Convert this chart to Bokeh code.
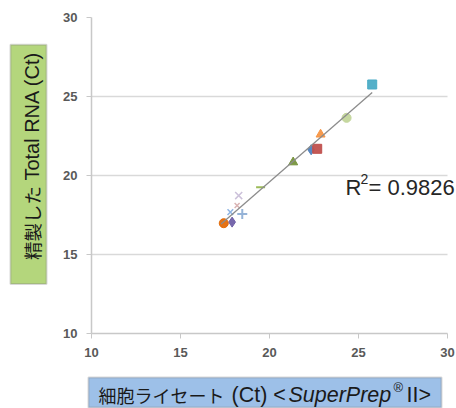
import math
import numpy as np
from bokeh.plotting import figure
from bokeh.layouts import column, row
from bokeh.models import Range1d, Label, BoxAnnotation, FixedTicker, ColumnDataSource
from bokeh.embed import file_html
from bokeh.resources import INLINE

# ---- data ----
x_lysate = [17.43, 17.90, 17.80, 18.47, 18.18, 18.27, 19.50, 21.33, 22.34, 22.68, 22.87, 24.33, 25.77]
y_total_rna = [16.98, 17.05, 17.68, 17.57, 18.10, 18.73, 19.26, 20.84, 21.63, 21.69, 22.60, 23.65, 25.76]
tick_values = [10, 15, 20, 25, 30]
r2_value = "0.9826"
y_title_jp = "精製した"
y_title_en = "Total RNA (Ct)"
x_title_jp = "細胞ライセート"
x_title_ct = "(Ct) <"
x_title_brand = "SuperPrep"
x_title_reg = "®"
x_title_end = "II>"

# ---- styles ----
markers = ["circle", "diamond", "x", "cross", "x", "x", "dash", "triangle", "diamond", "square", "triangle", "circle", "square"]
colors = ["#E46C0A", "#7060A8", "#8EB4E3", "#95B3D7", "#D9B3B3", "#CCC1DA", "#9BBB59", "#77933C",
          "#4F81BD", "#C0504D", "#F79646", "#C3D69B", "#4BACC6"]
sizes = [9, 10, 8, 10, 7, 10, 9, 9, 10, 9, 9, 9, 9]
line_widths = [1, 1, 1.5, 2, 1.5, 1.5, 2, 1, 1, 1, 1, 1, 1]

LAT = "Liberation Sans"
CJK = "Noto Sans CJK JP"
TXT = "#1a1a1a"

W, H = 456, 408
LEFT_W = 52
TOP_H = 370


def decor_fig(width, height, x0, y0):
    f = figure(width=width, height=height, output_backend="svg", toolbar_location=None,
               x_range=Range1d(x0, x0 + width), y_range=Range1d(y0 + height, y0),
               min_border=0, x_axis_location=None, y_axis_location=None)
    f.grid.visible = False
    f.outline_line_color = None
    f.background_fill_color = "white"
    f.border_fill_color = "white"
    return f


def add_text(f, x, y, text, font, size, units="data", align="left", baseline="middle",
             angle=0.0, style="normal", color=TXT):
    f.add_layout(Label(x=x, y=y, x_units=units, y_units=units, text=text, angle=angle,
                       text_align=align, text_baseline=baseline, text_font=font,
                       text_font_size=size, text_font_style=style, text_color=color))


# ---------------- main chart ----------------
FRAME_L, FRAME_T, FRAME_B = 91, 17, 333
X30_PX = 447
px_per_unit = (X30_PX - FRAME_L) / (tick_values[-1] - tick_values[0])
x_end = tick_values[0] + (W - FRAME_L) / px_per_unit

p = figure(width=W - LEFT_W, height=TOP_H, output_backend="svg", toolbar_location=None,
           x_range=Range1d(tick_values[0], x_end), y_range=Range1d(tick_values[0], tick_values[-1]),
           min_border_left=FRAME_L - LEFT_W, min_border_right=0,
           min_border_top=FRAME_T, min_border_bottom=TOP_H - FRAME_B)
p.outline_line_color = None
p.background_fill_color = "white"
p.border_fill_color = "white"
p.xgrid.visible = False
p.ygrid.grid_line_color = "#d9d9d9"
p.ygrid.grid_line_width = 1.5
try:
    p.ygrid.cross_bounds = (tick_values[0], tick_values[-1])
except Exception:
    pass
for ax in (p.xaxis[0], p.yaxis[0]):
    ax.ticker = FixedTicker(ticks=tick_values)
    ax.bounds = (tick_values[0], tick_values[-1])
    ax.axis_line_color = "#c8c8c8"
    ax.axis_line_width = 1.5
    ax.major_tick_line_color = "#c8c8c8"
    ax.major_tick_in = 0
    ax.major_tick_out = 5
    ax.minor_tick_line_color = None
    ax.major_label_text_font = LAT
    ax.major_label_text_font_size = "13px"
    ax.major_label_text_font_style = "bold"
    ax.major_label_text_color = "#595959"
    ax.major_label_standoff = 9

# trendline (least squares through the data)
slope, intercept = np.polyfit(x_lysate, y_total_rna, 1)
x_line = [min(x_lysate) - 0.15, max(x_lysate)]
y_line = [slope * v + intercept for v in x_line]

src = ColumnDataSource(dict(x=x_lysate, y=y_total_rna, marker=markers, color=colors,
                            size=sizes, lw=line_widths))
p.scatter("x", "y", source=src, marker="marker", size="size", fill_color="color",
          line_color="color", line_width="lw", fill_alpha=0.95)
p.line(x_line, y_line, line_color="#8c8c8c", line_width=1.3)

# R^2 annotation (frame-relative screen units)
def fx(page_x):
    return page_x - FRAME_L

def fy(page_y):
    return FRAME_B - page_y

add_text(p, fx(345), fy(187), "R", LAT, "22px", units="screen", baseline="alphabetic", color="#262626")
add_text(p, fx(360), fy(178), "2", LAT, "14px", units="screen", baseline="alphabetic", color="#262626")
add_text(p, fx(368), fy(187), "= " + r2_value, LAT, "22px", units="screen", baseline="alphabetic", color="#262626")

# ---------------- y title (left strip) ----------------
left = decor_fig(LEFT_W, TOP_H, 0, 0)
left.add_layout(BoxAnnotation(left=10, right=46, top=32, bottom=312,
                              fill_color="#B4D67C", fill_alpha=1, line_color="#7f7f7f", line_width=2))
add_text(left, 31, 284, y_title_jp, CJK, "18.5px", angle=math.pi / 2)
add_text(left, 31, 191, y_title_en, LAT, "20px", angle=math.pi / 2)

# ---------------- x title (bottom strip) ----------------
bottom = decor_fig(W, H - TOP_H, 0, TOP_H)
bottom.add_layout(BoxAnnotation(left=88, right=441, top=377, bottom=407,
                                fill_color="#9DC0E8", fill_alpha=1, line_color="#7f7f7f", line_width=2))
add_text(bottom, 98, 394, x_title_jp, CJK, "18px")
add_text(bottom, 231, 394, x_title_ct, LAT, "21.5px")
add_text(bottom, 288, 394, x_title_brand, LAT, "21.5px", style="italic")
add_text(bottom, 393, 387, x_title_reg, LAT, "13px")
add_text(bottom, 406, 394, x_title_end, LAT, "21.5px")

layout = column(row(left, p, spacing=0), bottom, spacing=0)
open("out.html", "w").write(file_html(layout, INLINE))
